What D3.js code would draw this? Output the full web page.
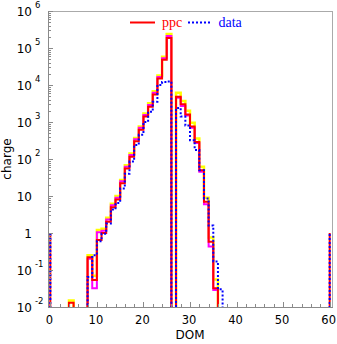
<!DOCTYPE html>
<html>
<head>
<meta charset="utf-8">
<script src="https://cdn.jsdelivr.net/npm/d3@7"></script>
<style>
  html, body { margin: 0; padding: 0; background: #fff; }
  svg { display: block; }
</style>
</head>
<body>
<svg id="chart" width="337" height="344"></svg>
<script>
// ---------- data ----------
const domBins = [0,1,2,3,4,5,6,7,8,9,10,11,12,13,14,15,16,17,18,19,20,21,22,23,24,25,26,27,28,29,30,31,32,33,34,35,36,37];
const ppc     = [0,0,0,0,0.013,0,0,0,0.22,0.054,0.65,1.0,2.0,5.0,8.0,22,55,115,300,620,1400,2600,5500,15000,48000,186000,0,4800,3000,1600,750,290,50,7,0.58,0.032,0,0];
const ppcHigh = [0,0,0,0,0.015,0,0,0,0.25,0.07,1.2,1.3,2.6,6.2,10,27,68,140,370,760,1700,3200,6800,18000,58000,240000,0,6200,3700,2000,950,360,62,9,0.75,0.055,0,0];
const ppcLow  = [0,0,0,0,0,0,0,0,0.2,0.032,1.05,1.15,2.3,5.6,9,25,62,128,340,700,1550,2900,6200,16500,53000,210000,0,4500,2700,1500,700,270,45,6,0.43,0.029,0,0];
const data    = [0,0,0,0,0,0,0,0,0.065,0.25,0.6,0.95,1.8,4.3,6.5,16,40,85,240,450,1000,1900,3500,10000,12000,12500,0,2400,1400,800,320,175,50,8.6,1.6,0.17,0.03,0];
// isolated spikes at the edge DOMs
const spikeDOM   = [0, 60];
const spikePpc   = [1, 1];
const spikeData  = [1, 1];

const xTicks = [0,10,20,30,40,50,60];
const xMinorTicks = [2,4,6,8,12,14,16,18,22,24,26,28,32,34,36,38,42,44,46,48,52,54,56,58];
const yTickValues = [1e-2,1e-1,1,10,1e2,1e3,1e4,1e5,1e6];
const yTickBase   = ["10","10","1","10","10","10","10","10","10"];
const yTickExp    = ["-2","-1","","","2","3","4","5","6"];
const legendLabels = ["ppc","data"];

// ---------- layout ----------
const svg = d3.select("#chart");
const L = 48, R = 332, T = 11, B = 307;
const x = d3.scaleLinear().domain([-0.5, 60.5]).range([L, R]);
const y = d3.scaleLog().domain([1e-2, 1e6]).range([B, T]);
const FLOOR = 1e-3;

svg.append("defs").append("clipPath").attr("id","plotclip")
  .append("rect").attr("x", L).attr("y", T).attr("width", R - L).attr("height", B - T);

const g = svg.append("g").attr("clip-path","url(#plotclip)");

function stepPoints(vals) {
  const pts = domBins.map((d,i) => [d, vals[i] > 0 ? vals[i] : FLOOR]);
  const last = domBins[domBins.length-1];
  pts.push([last + 1, vals[vals.length-1] > 0 ? vals[vals.length-1] : FLOOR]);
  return pts;
}
const stepLine = d3.line().x(d => x(d[0])).y(d => y(d[1])).curve(d3.curveStepAfter);

function drawHist(vals, color, width, dash) {
  const p = g.append("path").attr("d", stepLine(stepPoints(vals)))
    .attr("fill","none").attr("stroke", color).attr("stroke-width", width)
    .attr("stroke-linejoin","miter");
  if (dash) p.attr("stroke-dasharray", dash);
}
drawHist(ppcHigh, "#ffff00", 2.5);
drawHist(ppcLow, "#ff00ff", 2);
drawHist(ppc, "#ff0000", 2);

// spikes
spikeDOM.forEach((d,i) => {
  g.append("line").attr("x1", x(d)).attr("x2", x(d)).attr("y1", y(FLOOR)).attr("y2", y(spikePpc[i]))
    .attr("stroke","#ff0000").attr("stroke-width",2);
});
drawHist(data, "#0000ff", 2, "2,2");
spikeDOM.forEach((d,i) => {
  g.append("line").attr("x1", x(d)).attr("x2", x(d)).attr("y1", y(FLOOR)).attr("y2", y(spikeData[i]))
    .attr("stroke","#0000ff").attr("stroke-width",2).attr("stroke-dasharray","2,2");
});

// ---------- frame & axes ----------
const axisColor = "#8a8a8a";
svg.append("line").attr("x1", L).attr("x2", R).attr("y1", T + 0.5).attr("y2", T + 0.5).attr("stroke", "#aaa");
svg.append("line").attr("x1", R + 0.5).attr("x2", R + 0.5).attr("y1", T).attr("y2", B).attr("stroke", "#aaa");
svg.append("line").attr("x1", L).attr("x2", R + 1).attr("y1", B + 0.5).attr("y2", B + 0.5).attr("stroke", axisColor);
svg.append("line").attr("x1", L + 0.5).attr("x2", L + 0.5).attr("y1", T).attr("y2", B + 1).attr("stroke", axisColor);

// y ticks (log minor + major)
const yAll = y.ticks(80).filter(v => v >= 1e-2 && v <= 1e6);
yAll.forEach(v => {
  const major = yTickValues.some(t => Math.abs(Math.log10(t) - Math.log10(v)) < 1e-9);
  const yy = Math.round(y(v)) + 0.5;
  svg.append("line").attr("x1", L).attr("x2", L + (major ? 5 : 3))
    .attr("y1", yy).attr("y2", yy).attr("stroke", axisColor);
});
// x ticks
xTicks.forEach(v => {
  const xx = Math.round(x(v)) + 0.5;
  svg.append("line").attr("x1", xx).attr("x2", xx).attr("y1", B).attr("y2", B - 5).attr("stroke", axisColor);
});
xMinorTicks.forEach(v => {
  const xx = Math.round(x(v)) + 0.5;
  svg.append("line").attr("x1", xx).attr("x2", xx).attr("y1", B).attr("y2", B - 3).attr("stroke", axisColor);
});

// tick labels
const fontSans = "'DejaVu Sans', sans-serif";
svg.selectAll(".xl").data(xTicks).enter().append("text")
  .attr("x", d => x(d) - 1).attr("y", 324)
  .attr("text-anchor","middle").attr("font-family", fontSans).attr("font-size", 11.5)
  .attr("fill","#000").text(d => d);

yTickValues.forEach((v,i) => {
  const yy = y(v);
  svg.append("text").attr("x", 32).attr("y", yy + 5)
    .attr("text-anchor","end").attr("font-family", fontSans).attr("font-size", 12)
    .attr("fill","#000").text(yTickBase[i]);
  if (yTickExp[i]) {
    svg.append("text").attr("x", 35).attr("y", yy - 3)
      .attr("text-anchor","start").attr("font-family", fontSans).attr("font-size", 8.5)
      .attr("fill","#000").text(yTickExp[i]);
  }
});

// axis titles
svg.append("text").attr("x", (L + R) / 2).attr("y", 339)
  .attr("text-anchor","middle").attr("font-family", fontSans).attr("font-size", 12)
  .attr("fill","#000").text("DOM");
svg.append("text").attr("transform", `translate(11,159) rotate(-90)`)
  .attr("text-anchor","middle").attr("font-family", fontSans).attr("font-size", 12)
  .attr("fill","#000").text("charge");

// legend
const leg = svg.append("g");
leg.append("line").attr("x1",130).attr("x2",155).attr("y1",22.5).attr("y2",22.5)
  .attr("stroke","#ff0000").attr("stroke-width",2);
leg.append("text").attr("x",162).attr("y",26.5).attr("font-family","'Liberation Serif', serif")
  .attr("font-size",14).attr("fill","#ff0000").text(legendLabels[0]);
leg.append("line").attr("x1",188).attr("x2",210).attr("y1",22.5).attr("y2",22.5)
  .attr("stroke","#0000ff").attr("stroke-width",2).attr("stroke-dasharray","2,2");
leg.append("text").attr("x",218.5).attr("y",26.5).attr("font-family","'Liberation Serif', serif")
  .attr("font-size",14).attr("fill","#0000ff").text(legendLabels[1]);
</script>
</body>
</html>
